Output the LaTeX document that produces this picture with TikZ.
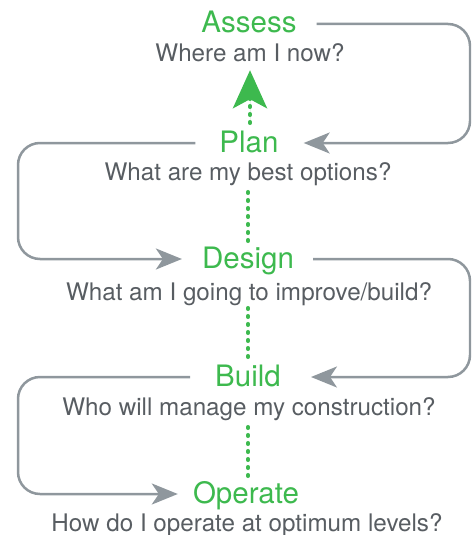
\documentclass[tikz,border=0pt]{standalone}
\usepackage{fontspec}
\setmainfont{TeX Gyre Heros}
\usetikzlibrary{arrows.meta,calc}
\definecolor{grn}{HTML}{3DB94E}
\definecolor{txt}{HTML}{585D62}
\definecolor{ln}{HTML}{8F979D}
\begin{document}
\begin{tikzpicture}[x=1pt,y=-1pt,
  title/.style={text=grn, font=\fontsize{29.5}{30}\selectfont, inner sep=0pt, text height=20pt, text depth=2pt, anchor=base},
  sub/.style={text=txt, font=\fontsize{24.2}{25}\selectfont, inner sep=0pt, text height=16pt, text depth=5pt, anchor=base},
  conn/.style={draw=ln, line width=2.5pt, rounded corners=22pt, -{Stealth[length=26pt,width=21pt,inset=7pt]}},
  dots/.style={draw=grn, line width=4.5pt, line cap=round, dash pattern=on 0.6pt off 7.4pt}]
\useasboundingbox (0,0) rectangle (471,535);
\clip (0,0) rectangle (471,535);
% stages
\node[title] (assess)  at (249,33)  {Assess};
\node[sub]   (where)   at (250,62)  {Where am I now?};
\node[title] (plan)    at (249,152) {Plan};
\node[sub]   (options) at (248,180) {What are my best options?};
\node[title] (design)  at (248,268) {Design};
\node[sub]   (improve) at (249,300) {What am I going to improve/build?};
\node[title] (build)   at (248,386) {Build};
\node[sub]   (constr)  at (249,415) {Who will manage my construction?};
\node[title] (operate) at (246,503) {Operate};
\node[sub]   (how)     at (247,531) {How do I operate at optimum levels?};
% side rails
\coordinate (R) at (470,0);
\coordinate (L) at (18,0);
% green dotted links
\draw[dots, -{Stealth[length=38pt,width=34pt,inset=9pt]}, fill=grn]
  ([yshift=9pt]plan.north -| where.south) -- ([yshift=-3pt]where.south);
\draw[dots] ([yshift=-7pt]options.south) -- ([yshift=6pt]design.north -| options.south);
\draw[dots] ([yshift=-3pt]improve.south -| options.south) -- ([yshift=6pt]build.north -| options.south);
\draw[dots] ([yshift=-7pt]constr.south -| options.south) -- ([yshift=6pt]operate.north -| options.south);
% gray connectors
\draw[conn] ([xshift=20pt]assess.east) -| (R |- plan.east) -- ([xshift=25pt]plan.east);
\draw[conn] ([xshift=-24pt]plan.west) -| (L |- design.west) -- ([xshift=-20pt]design.west);
\draw[conn] ([xshift=19pt]design.east) -| (R |- build.east) -- ([xshift=30pt]build.east);
\draw[conn] ([xshift=-25pt]build.west) -| (L |- operate.west) -- ([xshift=-15pt]operate.west);
\end{tikzpicture}
\end{document}
